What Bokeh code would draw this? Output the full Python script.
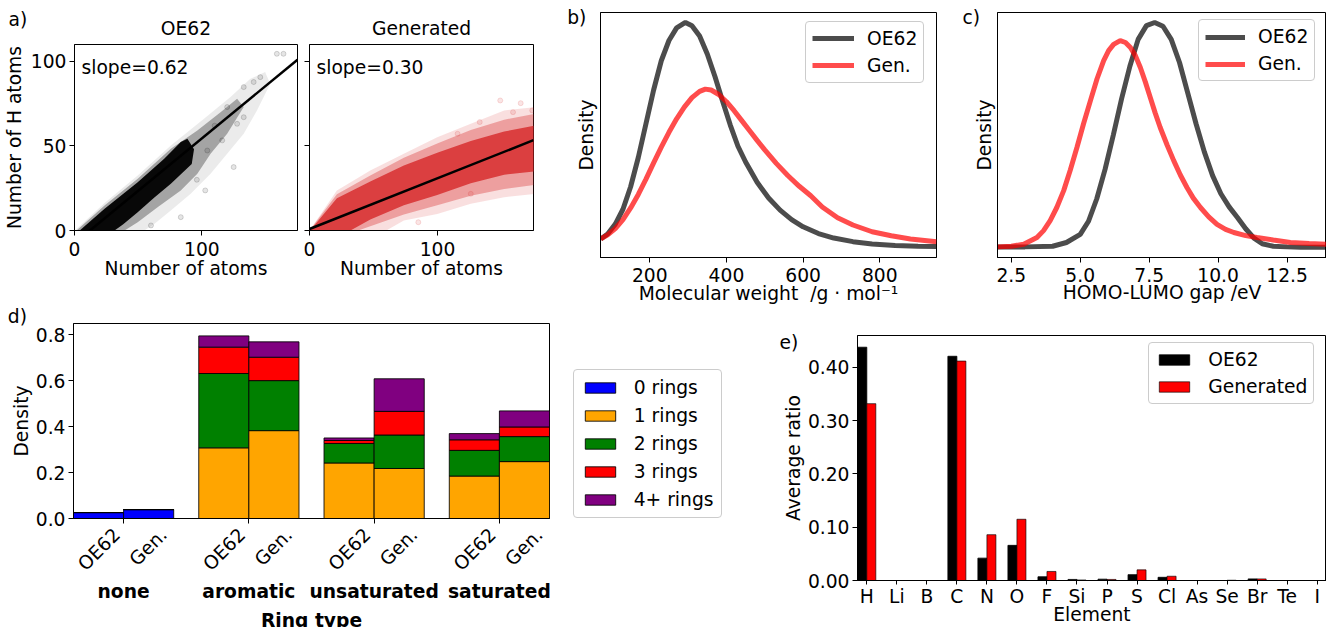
import math
from bokeh.plotting import figure
from bokeh.models import (Range1d, FixedTicker, NumeralTickFormatter, Label, Title, LinearAxis,
                          Legend, LegendItem, ColumnDataSource)
from bokeh.layouts import row, column
from bokeh.embed import file_html
from bokeh.resources import INLINE

FONT = "DejaVu Sans"
FS = "18.7px"

# ---------------- a) H atoms vs atoms ----------------
a_xticks = [0, 100]
a_yticks = [0, 50, 100]
oe62_fit_slope = 0.62
oe62_fit_intercept = -7.5
gen_fit_slope = 0.30
gen_fit_intercept = 0.9
fit_x = [0, 175]

oe62_halo_x = [0.3, 23.6, 49.6, 75.6, 101.6, 122.4, 138.0, 149.6, 153.6, 143.2, 132.8, 119.8, 106.8, 91.2, 75.6, 62.6, 54.8]
oe62_halo_y = [0.0, 16.2, 32.5, 50.3, 66.1, 78.9, 89.7, 93.7, 86.8, 71.0, 57.2, 45.4, 33.5, 21.7, 11.8, 3.9, 0.0]
oe62_mid_x = [1.6, 23.6, 49.6, 75.6, 96.4, 114.6, 127.6, 132.8, 119.8, 106.8, 96.4, 83.4, 65.2, 49.6, 39.3]
oe62_mid_y = [0.0, 14.8, 30.6, 48.3, 59.2, 70.0, 77.9, 73.0, 57.2, 45.4, 33.5, 23.7, 13.8, 4.9, 0.0]
oe62_core_x = [4.1, 23.6, 49.6, 70.4, 83.4, 88.6, 93.8, 92.0, 75.6, 62.0, 49.6, 38.0, 31.4]
oe62_core_y = [0.0, 12.8, 28.6, 42.4, 52.3, 54.2, 48.0, 39.4, 27.6, 19.0, 10.8, 3.5, 0.0]
oe62_out_x = [158.8, 164.0, 145.8, 140.6, 132.8, 124.9, 102.6, 83.4, 60.0, 127.6, 119.8, 115.9, 104.2, 132.8, 110.0, 96.0]
oe62_out_y = [104.5, 104.5, 90.7, 87.8, 84.8, 37.5, 23.7, 7.9, 3.0, 63.1, 73.0, 53.3, 47.3, 67.0, 62.0, 30.0]

gen_halo_x = [0, 21.4, 47.5, 73.7, 99.8, 126, 152.1, 176, 176, 152.1, 126, 99.8, 73.7, 60]
gen_halo_y = [0, 23.7, 35.5, 45.4, 55.2, 63.1, 71, 73, 21.7, 19.7, 15.8, 9.8, 5.9, 0]
gen_mid_x = [0, 21.4, 47.5, 73.7, 99.8, 126, 152.1, 176, 176, 152.1, 126, 99.8, 73.7, 47.5, 38]
gen_mid_y = [0, 21.5, 32.5, 43, 51.5, 59.5, 65.5, 69, 27, 24.5, 20.5, 15, 9.5, 2.5, 0]
gen_core_x = [0.5, 21.4, 47.5, 73.7, 99.8, 126, 152.1, 176, 176, 152.1, 126, 99.8, 73.7, 47.5, 32]
gen_core_y = [0, 19, 29, 38.5, 46, 53, 58.5, 62, 35, 33, 28, 21, 15, 6.5, 0]
gen_out_x = [149, 165, 133, 85, 126, 115.7, 174, 159]
gen_out_y = [76.9, 75.3, 64.1, 4.9, 21.7, 57.2, 71, 70]

# ---------------- b) molecular weight ----------------
b_xticks = [200, 400, 600, 800]
mw_oe62_x = [72, 90, 110, 130, 150, 170, 190, 210, 230, 250, 270, 293, 310, 330, 350, 370, 390, 410,
             430, 450, 480, 510, 540, 570, 600, 640, 680, 730, 780, 840, 900, 948]
mw_oe62_y = [0.19, 0.30, 0.52, 0.85, 1.35, 2.00, 2.75, 3.50, 4.15, 4.60, 4.88, 5.00, 4.93, 4.70, 4.30, 3.80,
             3.25, 2.72, 2.25, 1.90, 1.45, 1.10, 0.83, 0.62, 0.46, 0.31, 0.21, 0.13, 0.08, 0.045, 0.03, 0.02]
mw_gen_x = [72, 90, 110, 130, 150, 170, 190, 210, 230, 250, 270, 290, 310, 330, 345, 360, 380, 400, 420,
            440, 460, 480, 500, 530, 560, 590, 620, 650, 690, 730, 780, 830, 880, 948]
mw_gen_y = [0.19, 0.28, 0.42, 0.62, 0.88, 1.18, 1.52, 1.88, 2.23, 2.56, 2.86, 3.12, 3.33, 3.47, 3.52, 3.50,
            3.40, 3.24, 3.04, 2.82, 2.60, 2.38, 2.17, 1.87, 1.60, 1.36, 1.15, 0.90, 0.66, 0.50, 0.35, 0.26,
            0.19, 0.13]

# ---------------- c) HOMO-LUMO gap ----------------
c_xticks = [2.5, 5.0, 7.5, 10.0, 12.5]
gap_oe62_x = [2.0, 3.0, 4.0, 4.5, 5.0, 5.3, 5.6, 5.9, 6.2, 6.5, 6.8, 7.1, 7.4, 7.7, 8.0, 8.3, 8.6, 8.9,
              9.2, 9.5, 9.8, 10.1, 10.4, 10.7, 11.0, 11.3, 11.6, 12.0, 12.5, 13.0, 13.93]
gap_oe62_y = [0.001, 0.001, 0.002, 0.008, 0.021, 0.042, 0.078, 0.125, 0.18, 0.238, 0.29, 0.333, 0.355,
              0.36, 0.354, 0.333, 0.296, 0.247, 0.198, 0.153, 0.115, 0.086, 0.065, 0.048, 0.03, 0.015,
              0.006, 0.002, 0.001, 0.0005, 0.0003]
gap_gen_x = [2.0, 2.5, 2.95, 3.43, 3.67, 3.91, 4.15, 4.4, 4.64, 4.88, 5.12, 5.37, 5.61, 5.85, 6.03, 6.21,
             6.45, 6.64, 6.82, 7.0, 7.18, 7.36, 7.54, 7.72, 7.9, 8.15, 8.39, 8.63, 8.87, 9.1, 9.36, 9.66,
             9.96, 10.27, 10.57, 11.0, 11.41, 12.0, 12.62, 13.3, 13.93]
gap_gen_y = [0.001, 0.002, 0.0053, 0.016, 0.027, 0.043, 0.064, 0.091, 0.124, 0.16, 0.198, 0.235, 0.27,
             0.299, 0.315, 0.325, 0.331, 0.328, 0.32, 0.307, 0.288, 0.265, 0.24, 0.215, 0.192, 0.164,
             0.139, 0.116, 0.096, 0.079, 0.064, 0.049, 0.037, 0.029, 0.024, 0.019, 0.016, 0.012, 0.008,
             0.0065, 0.0053]

# ---------------- d) ring types ----------------
ring_types = ["none", "aromatic", "unsaturated", "saturated"]
dataset_labels = ["OE62", "Gen."]
ring_labels = ["0 rings", "1 rings", "2 rings", "3 rings", "4+ rings"]
ring_colors = ["blue", "orange", "green", "red", "purple"]
oe62_r0 = [0.026, 0.0, 0.0, 0.0]
oe62_r1 = [0.0, 0.308, 0.242, 0.185]
oe62_r2 = [0.0, 0.324, 0.085, 0.112]
oe62_r3 = [0.0, 0.115, 0.013, 0.046]
oe62_r4 = [0.0, 0.049, 0.011, 0.027]
gen_r0 = [0.039, 0.0, 0.0, 0.0]
gen_r1 = [0.0, 0.383, 0.218, 0.248]
gen_r2 = [0.0, 0.218, 0.146, 0.109]
gen_r3 = [0.0, 0.102, 0.103, 0.042]
gen_r4 = [0.0, 0.067, 0.142, 0.070]
d_yticks = [0.0, 0.2, 0.4, 0.6, 0.8]

# ---------------- e) elements ----------------
elements = ["H", "Li", "B", "C", "N", "O", "F", "Si", "P", "S", "Cl", "As", "Se", "Br", "Te", "I"]
oe62_ratio = [0.438, 0.0, 0.0, 0.421, 0.042, 0.066, 0.007, 0.002, 0.0025, 0.011, 0.006, 0.0, 0.0, 0.003, 0.0, 0.0]
gen_ratio = [0.332, 0.0, 0.0, 0.412, 0.086, 0.115, 0.017, 0.001, 0.002, 0.020, 0.008, 0.0, 0.0005, 0.003, 0.0, 0.0]
e_yticks = [0.0, 0.1, 0.2, 0.3, 0.4]


def style_axis(ax):
    ax.axis_line_color = "black"
    ax.major_tick_line_color = "black"
    ax.major_tick_out = 5
    ax.major_tick_in = 0
    ax.minor_tick_line_color = None
    ax.major_label_text_font = FONT
    ax.major_label_text_font_size = FS
    ax.major_label_text_color = "black"
    ax.axis_label_text_font = FONT
    ax.axis_label_text_font_size = FS
    ax.axis_label_text_font_style = "normal"
    ax.axis_label_text_color = "black"


def make_fig(w, h, xr, yr, bl, br, bt, bb):
    p = figure(width=w, height=h, x_range=Range1d(*xr), y_range=Range1d(*yr),
               output_backend="svg", toolbar_location=None,
               min_border_left=bl, min_border_right=br, min_border_top=bt, min_border_bottom=bb)
    try:
        p.frame_align = False
    except Exception:
        pass
    p.title.visible = False
    p.outline_line_color = "black"
    p.outline_line_width = 1
    p.outline_line_alpha = 1.0
    p.xgrid.grid_line_color = None
    p.ygrid.grid_line_color = None
    p.border_fill_color = "white"
    p.background_fill_color = "white"
    style_axis(p.xaxis[0])
    style_axis(p.yaxis[0])
    p.xaxis[0].major_label_standoff = 5
    p.yaxis[0].major_label_standoff = 3
    return p


def no_tick_labels(ax, ticks):
    ax.major_label_overrides = {t: "" for t in ticks}
    ax.major_label_standoff = 0


def no_ticks(ax):
    ax.ticker = FixedTicker(ticks=[])
    ax.major_tick_out = 0
    ax.major_label_standoff = 0


def title(p, text, align, offset, standoff, side="above", bold=False):
    p.add_layout(Title(text=text, align=align, offset=offset, standoff=standoff, vertical_align="bottom",
                       text_font=FONT, text_font_size=FS,
                       text_font_style="bold" if bold else "normal",
                       text_color="black"), side)


def make_legend(items, loc, gw, gh, standoff, pad, spacing):
    lg = Legend(items=items, location=loc, glyph_width=gw, glyph_height=gh,
                label_standoff=standoff, padding=pad, spacing=spacing, margin=0,
                border_line_color="#cccccc", border_line_width=1, border_line_alpha=1.0,
                background_fill_color="white", background_fill_alpha=0.8,
                label_text_font=FONT, label_text_font_size=FS, label_text_color="black",
                label_height=20)
    try:
        lg.border_radius = 4
    except Exception:
        pass
    return lg


# ================= panel a =================
pa1 = make_fig(303, 307, (0, 175), (0, 110), 73, 6, 44, 77)
pa1.xaxis.ticker = FixedTicker(ticks=a_xticks)
pa1.yaxis.ticker = FixedTicker(ticks=a_yticks)
pa1.xaxis.major_label_standoff = 6
pa1.patch(oe62_halo_x, oe62_halo_y, fill_color="black", fill_alpha=0.08, line_color=None)
pa1.patch(oe62_mid_x, oe62_mid_y, fill_color="black", fill_alpha=0.3, line_color=None)
pa1.patch(oe62_core_x, oe62_core_y, fill_color="black", fill_alpha=0.95, line_color=None)
pa1.scatter(oe62_out_x, oe62_out_y, size=5, fill_color="black", fill_alpha=0.1,
            line_color="black", line_alpha=0.15)
pa1.line(fit_x, [oe62_fit_slope * v + oe62_fit_intercept for v in fit_x], line_color="black", line_width=2.5)
pa1.add_layout(Label(x=7, y=153, x_units="screen", y_units="screen", text="slope=%.2f" % oe62_fit_slope,
                     text_font=FONT, text_font_size=FS, text_color="black"))
pa1.xaxis.axis_label = "Number of atoms"
pa1.xaxis.axis_label_standoff = -1
pa1.yaxis.axis_label = "Number of H atoms"
pa1.yaxis.axis_label_standoff = 3
title(pa1, "OE62", "center", 0, 10.6)
title(pa1, "a)", "left", -66, -39)

pa2 = make_fig(237, 307, (0, 175), (0, 110), 6, 7, 44, 77)
pa2.xaxis.ticker = FixedTicker(ticks=a_xticks)
pa2.yaxis.ticker = FixedTicker(ticks=a_yticks)
pa2.xaxis.major_label_standoff = 6
no_tick_labels(pa2.yaxis[0], a_yticks)
red_a = "#d62728"
pa2.patch(gen_halo_x, gen_halo_y, fill_color=red_a, fill_alpha=0.15, line_color=None)
pa2.patch(gen_mid_x, gen_mid_y, fill_color=red_a, fill_alpha=0.35, line_color=None)
pa2.patch(gen_core_x, gen_core_y, fill_color=red_a, fill_alpha=0.8, line_color=None)
pa2.scatter(gen_out_x, gen_out_y, size=5, fill_color=red_a, fill_alpha=0.12,
            line_color=red_a, line_alpha=0.15)
pa2.line(fit_x, [gen_fit_slope * v + gen_fit_intercept for v in fit_x], line_color="black", line_width=2.5)
pa2.add_layout(Label(x=7, y=153, x_units="screen", y_units="screen", text="slope=%.2f" % gen_fit_slope,
                     text_font=FONT, text_font_size=FS, text_color="black"))
pa2.xaxis.axis_label = "Number of atoms"
pa2.xaxis.axis_label_standoff = -1
title(pa2, "Generated", "center", 0, 10.6)

# ================= panel b =================
pb = make_fig(400, 307, (71.4, 948), (-0.222, 5.222), 60, 4, 12, 50)
pb.xaxis.ticker = FixedTicker(ticks=b_xticks)
no_ticks(pb.yaxis[0])
pb.yaxis.axis_label = "Density"
pb.yaxis.axis_label_standoff = 4
pb.xaxis.axis_label = "Molecular weight\u00a0 /g \u00b7 mol\u207b\u00b9"
pb.xaxis.axis_label_standoff = -2
rb1 = pb.line(mw_oe62_x, mw_oe62_y, line_color="black", line_alpha=0.7, line_width=5)
rb2 = pb.line(mw_gen_x, mw_gen_y, line_color="red", line_alpha=0.7, line_width=5)
pb.add_layout(make_legend([LegendItem(label="OE62", renderers=[rb1]),
                           LegendItem(label="Gen.", renderers=[rb2])],
                          (205, 174.3), 42, 20, 13, 6, 6))
title(pb, "b)", "left", -33.3, -31.4)

# ================= panel c =================
pc = make_fig(386, 307, (2.0, 13.93), (-0.016, 0.376), 57, 0, 12, 50)
pc.xaxis.ticker = FixedTicker(ticks=c_xticks)
pc.xaxis.formatter = NumeralTickFormatter(format="0.0")
no_ticks(pc.yaxis[0])
pc.yaxis.axis_label = "Density"
pc.yaxis.axis_label_standoff = 3
pc.xaxis.axis_label = "HOMO-LUMO gap /eV"
pc.xaxis.axis_label_standoff = -3
rc1 = pc.line(gap_oe62_x, gap_oe62_y, line_color="black", line_alpha=0.7, line_width=5)
rc2 = pc.line(gap_gen_x, gap_gen_y, line_color="red", line_alpha=0.7, line_width=5)
pc.add_layout(make_legend([LegendItem(label="OE62", renderers=[rc1]),
                           LegendItem(label="Gen.", renderers=[rc2])],
                          (201, 176), 40, 20, 13, 6, 6))
title(pc, "c)", "left", -35, -31.4)

# ================= panel d =================
pd = make_fig(778, 320, (-0.4, 3.4), (0, 0.85), 73, 229, 14, 109)
pd.yaxis.ticker = FixedTicker(ticks=d_yticks)
pd.yaxis.formatter = NumeralTickFormatter(format="0.0")
pd.yaxis.axis_label = "Density"
pd.yaxis.axis_label_standoff = 1
group_x = list(range(len(ring_types)))
bar_offsets = [-0.2, 0.2]
src_oe = ColumnDataSource(dict(x=[g + bar_offsets[0] for g in group_x],
                               r0=oe62_r0, r1=oe62_r1, r2=oe62_r2, r3=oe62_r3, r4=oe62_r4))
src_gen = ColumnDataSource(dict(x=[g + bar_offsets[1] for g in group_x],
                                r0=gen_r0, r1=gen_r1, r2=gen_r2, r3=gen_r3, r4=gen_r4))
stack_keys = ["r0", "r1", "r2", "r3", "r4"]
rd = pd.vbar_stack(stack_keys, x="x", width=0.4, source=src_oe, fill_color=ring_colors,
                   line_color="black", line_width=1, line_alpha=0.85)
pd.vbar_stack(stack_keys, x="x", width=0.4, source=src_gen, fill_color=ring_colors,
              line_color="black", line_width=1, line_alpha=0.85)
# axis 1: tick marks at group centres
ax_d = pd.xaxis[0]
ax_d.ticker = FixedTicker(ticks=group_x)
no_tick_labels(ax_d, group_x)
ax_d.major_label_text_font_size = "1px"
# axis 2: rotated dataset labels under each bar (anchor shifted so the text is centred on the bar)
label_shift = [0.145, 0.12]
sub_ticks = [g + o + s for g in group_x for o, s in zip(bar_offsets, label_shift)]
sub_text = [ds for g in group_x for ds in dataset_labels]
ax_sub = LinearAxis(ticker=FixedTicker(ticks=sub_ticks),
                    major_label_overrides={t: s for t, s in zip(sub_ticks, sub_text)})
style_axis(ax_sub)
ax_sub.major_tick_out = 0
ax_sub.axis_line_color = None
ax_sub.major_label_orientation = math.pi / 4
ax_sub.major_label_standoff = 8
pd.add_layout(ax_sub, "below")
# axis 3: bold group names
ax_grp = LinearAxis(ticker=FixedTicker(ticks=group_x),
                    major_label_overrides={g: rt for g, rt in zip(group_x, ring_types)})
style_axis(ax_grp)
ax_grp.major_tick_out = 0
ax_grp.axis_line_color = None
ax_grp.major_label_text_font_style = "bold"
ax_grp.major_label_standoff = -4
pd.add_layout(ax_grp, "below")
title(pd, " ", "center", 0, -13, side="below")
title(pd, "Ring type", "center", 0, -11.6, side="below", bold=True)
pd.add_layout(make_legend([LegendItem(label=lab, renderers=[r]) for lab, r in zip(ring_labels, rd)],
                          (23.7, 0), 38, 13, 15, 7, 7), "right")
title(pd, "d)", "left", -65.7, -6.8)

# ================= panel e =================
pe = make_fig(548, 320, (-0.31, 15.31), (0, 0.46), 79, 0, 28, 46)
pe.yaxis.ticker = FixedTicker(ticks=e_yticks)
pe.yaxis.formatter = NumeralTickFormatter(format="0.00")
pe.yaxis.axis_label = "Average ratio"
pe.yaxis.axis_label_standoff = 1
pe.xaxis.ticker = FixedTicker(ticks=list(range(len(elements))))
pe.xaxis.major_label_overrides = {i: el for i, el in enumerate(elements)}
pe.xaxis.major_tick_out = 4
pe.xaxis.major_label_standoff = 1
pe.xaxis.axis_label = "Element"
pe.xaxis.axis_label_standoff = -6
idx = list(range(len(elements)))
re1 = pe.vbar(x=[i - 0.15 for i in idx], top=oe62_ratio, width=0.3, fill_color="black",
              line_color="black", line_width=0.8)
re2 = pe.vbar(x=[i + 0.15 for i in idx], top=gen_ratio, width=0.3, fill_color="red",
              line_color="black", line_width=0.8, line_alpha=0.8)
pe.add_layout(make_legend([LegendItem(label="OE62", renderers=[re1]),
                           LegendItem(label="Generated", renderers=[re2])],
                          (291.3, 176), 38, 13, 15, 6, 6))
title(pe, "e)", "left", -78, -34.8)

layout = column(row(pa1, pa2, pb, pc), row(pd, pe))
open("out.html", "w").write(file_html(layout, INLINE))
